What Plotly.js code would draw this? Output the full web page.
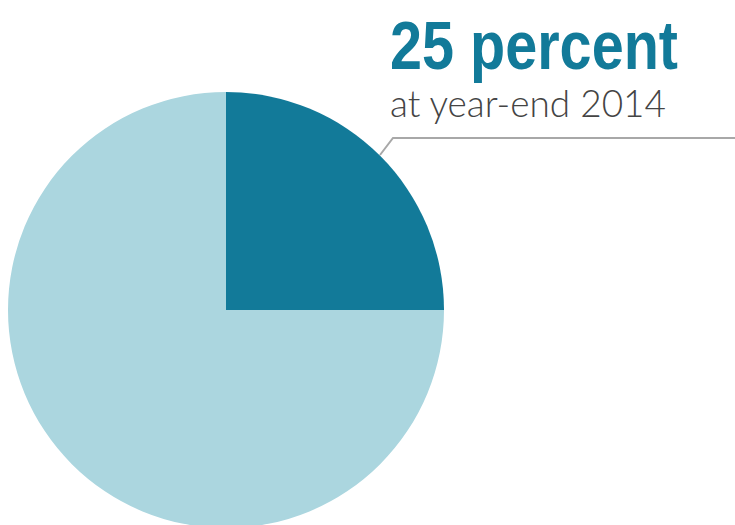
<!DOCTYPE html>
<html>
<head>
<meta charset="utf-8">
<script src="https://cdn.plot.ly/plotly-3.0.1.min.js"></script>
<style>
html,body{margin:0;padding:0;overflow:hidden;background:#fff;width:735px;height:525px;}
#chart{width:735px;height:540px;}
</style>
</head>
<body>
<div id="chart"></div>
<script>
const labels = ["Share at year-end 2014", "Remainder"];
const values = [25, 75];
const headlineUnit = "percent";
const subtitle = "at year-end 2014";

const W = 735, H = 540;
const px = x => x / W;
const py = y => (H - y) / H;

const data = [{
  type: "pie",
  labels: labels,
  values: values,
  sort: false,
  direction: "clockwise",
  rotation: 0,
  textinfo: "none",
  hoverinfo: "label+percent",
  marker: {colors: ["#127a99", "#abd6df"], line: {width: 0}},
  domain: {x: [px(8), px(444)], y: [py(528), py(92)]},
  showlegend: false
}];

const layout = {
  width: W, height: H,
  margin: {l: 0, r: 0, t: 0, b: 0},
  paper_bgcolor: "#fff",
  showlegend: false,
  shapes: [{
    type: "path", xref: "paper", yref: "paper",
    path: `M ${px(380)} ${py(155)} L ${px(393)} ${py(138)} L ${px(735)} ${py(138)}`,
    line: {color: "#a8a8a8", width: 2}
  }],
  annotations: [{
    xref: "paper", yref: "paper",
    x: px(388), y: py(86), xanchor: "left", yanchor: "bottom", align: "left",
    text: "<b>" + values[0] + " " + headlineUnit + "</b>",
    showarrow: false,
    font: {family: "Liberation Sans, Arial, sans-serif", size: 69, color: "#127a99"}
  }, {
    xref: "paper", yref: "paper",
    x: px(388), y: py(127), xanchor: "left", yanchor: "bottom", align: "left",
    text: subtitle,
    showarrow: false,
    font: {family: "Lato, Liberation Sans, sans-serif", weight: 300, size: 37, color: "#444444"}
  }]
};

const targetWidths = [288, 276];
Plotly.newPlot("chart", data, layout, {displayModeBar: false, staticPlot: true}).then(gd => {
  const texts = gd.querySelectorAll(".annotation-text");
  texts.forEach((t, i) => {
    if (targetWidths[i]) {
      t.setAttribute("textLength", targetWidths[i]);
      t.setAttribute("lengthAdjust", "spacingAndGlyphs");
    }
  });
});
</script>
</body>
</html>
